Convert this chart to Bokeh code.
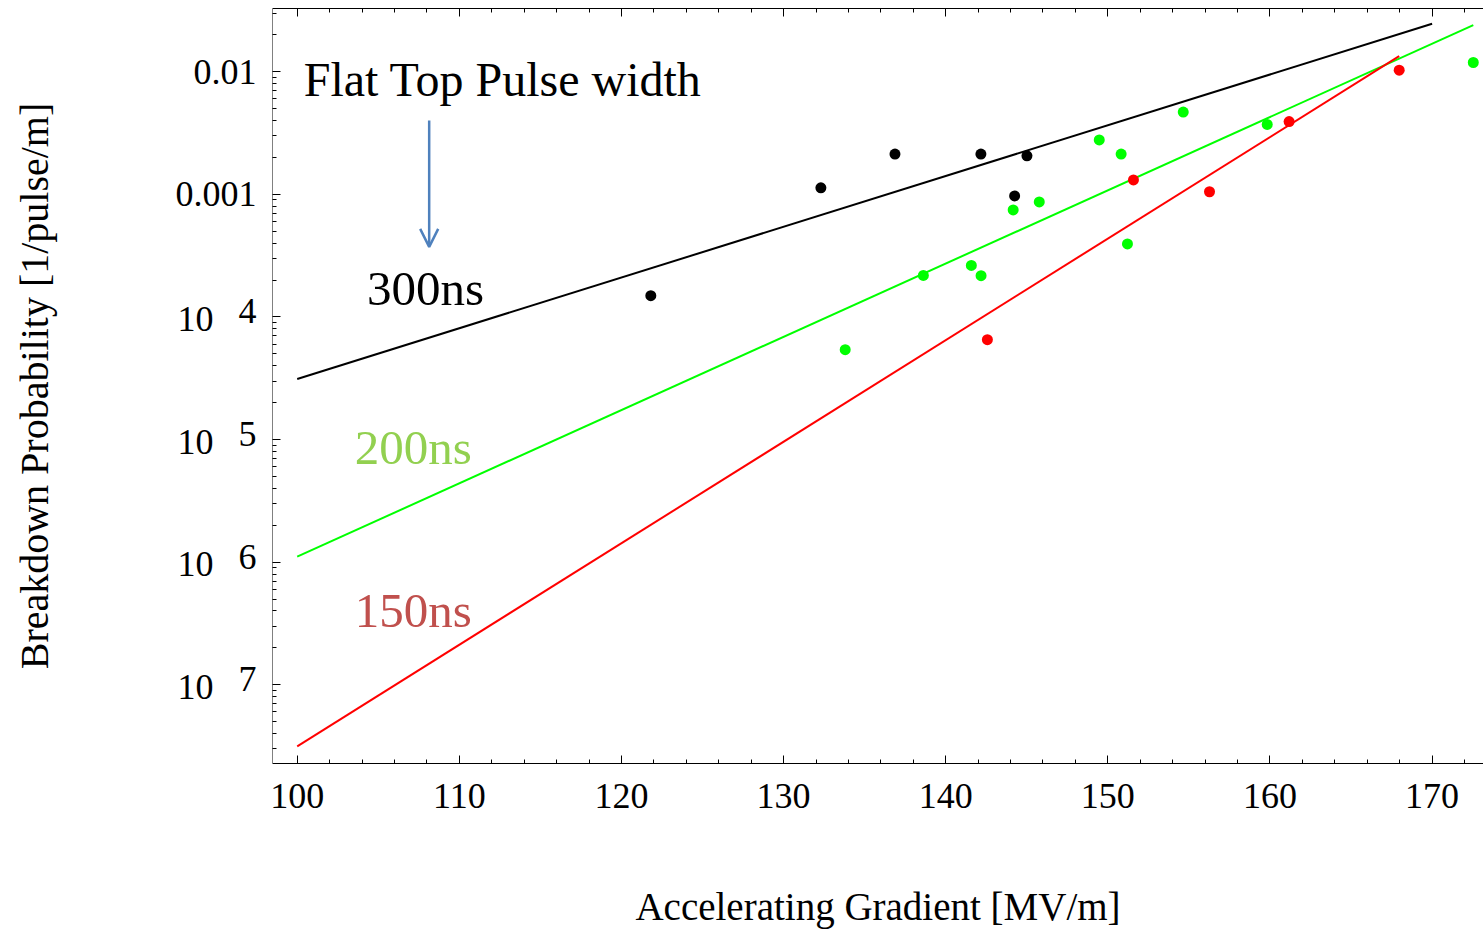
from bokeh.plotting import figure
from bokeh.models import (Range1d, FixedTicker, LinearAxis, LogAxis,
                          Label, Arrow, OpenHead)
from bokeh.embed import file_html
from bokeh.resources import INLINE

# ---------------- data ----------------
x_300 = [121.81, 132.30, 136.87, 142.17, 145.01, 144.25]
y_300 = [1.49e-4, 1.13e-3, 2.13e-3, 2.13e-3, 2.06e-3, 9.70e-4]

x_200 = [133.80, 138.62, 141.58, 142.18, 144.16, 145.77, 149.47, 150.82, 151.21, 154.65, 159.83, 172.54]
y_200 = [5.41e-5, 2.18e-4, 2.63e-4, 2.17e-4, 7.46e-4, 8.67e-4, 2.78e-3, 2.13e-3, 3.94e-4, 4.69e-3, 3.72e-3, 1.19e-2]

x_150 = [142.57, 151.58, 156.27, 161.18, 167.97]
y_150 = [6.52e-5, 1.31e-3, 1.05e-3, 3.92e-3, 1.03e-2]

# exponential fits (straight on the log axis): end points
fit_x_300 = [100.0, 170.0]
fit_y_300 = [3.12e-5, 0.0246]
fit_x_200 = [100.0, 172.54]
fit_y_200 = [1.11e-6, 0.0240]
fit_x_150 = [100.0, 167.97]
fit_y_150 = [3.15e-8, 0.0134]

xtick_values = [100, 110, 120, 130, 140, 150, 160, 170]
xtick_labels = ["100", "110", "120", "130", "140", "150", "160", "170"]

ytick_values = [1e-2, 1e-3, 1e-4, 1e-5, 1e-6, 1e-7]
ytick_labels = ["0.01", "0.001", "10", "10", "10", "10"]
ytick_exps = ["", "", "4", "5", "6", "7"]

x_start, x_end = 98.476, 173.17
y_start, y_end = 2.28e-8, 0.0328

FONT = "Liberation Serif"
DECADE_PX = 122.8

p = figure(width=1483, height=930, output_backend="svg", toolbar_location=None,
           y_axis_type="log",
           x_range=Range1d(x_start, x_end), y_range=Range1d(y_start, y_end),
           min_border_left=272, min_border_right=0, min_border_top=8,
           min_border_bottom=166)
p.outline_line_color = None
p.xgrid.visible = False
p.ygrid.visible = False
p.background_fill_color = "white"
p.border_fill_color = "white"

x_minor = list(range(98, 174, 2))

# bottom x axis
xa = p.xaxis[0]
xa.ticker = FixedTicker(ticks=xtick_values, minor_ticks=x_minor)
xa.major_label_overrides = dict(zip(xtick_values, xtick_labels))
xa.major_tick_in = 8
xa.major_tick_out = 0
xa.minor_tick_in = 4
xa.minor_tick_out = 0
xa.axis_line_color = "black"
xa.major_label_text_font = FONT
xa.major_label_text_font_size = "36px"
xa.major_label_text_color = "black"
xa.major_label_standoff = 20
xa.axis_label = "Accelerating Gradient [MV/m]"
xa.axis_label_text_font = FONT
xa.axis_label_text_font_size = "39px"
xa.axis_label_text_font_style = "normal"
xa.axis_label_text_color = "black"
xa.axis_label_standoff = 74

# top frame axis (ticks only)
ta = LinearAxis(ticker=FixedTicker(ticks=xtick_values, minor_ticks=x_minor))
ta.major_label_overrides = {v: "" for v in xtick_values}
ta.major_tick_in = 8
ta.major_tick_out = 0
ta.minor_tick_in = 4
ta.minor_tick_out = 0
ta.major_label_standoff = 0
ta.axis_line_color = "black"
p.add_layout(ta, "above")

# y axis: frame edge with ticks only
minor = []
for e in range(-8, -1):
    for k in range(2, 10):
        minor.append(k * 10.0 ** e)
ya = p.yaxis[0]
ya.ticker = FixedTicker(ticks=ytick_values, minor_ticks=minor)
ya.major_label_overrides = {v: "" for v in ytick_values}
ya.major_tick_in = 8
ya.major_tick_out = 0
ya.minor_tick_in = 4
ya.minor_tick_out = 0
ya.major_label_standoff = 0
ya.axis_line_color = "#808080"

# labels "0.01", "0.001" and the (raised) exponents
sup = 10 ** (5.5 / DECADE_PX)
yb_ticks = [v * (sup if ex else 1.0) for v, ex in zip(ytick_values, ytick_exps)]
yb_text = [ex if ex else l for l, ex in zip(ytick_labels, ytick_exps)]
yb = LogAxis(ticker=FixedTicker(ticks=yb_ticks))
yb.major_label_overrides = dict(zip(yb_ticks, yb_text))
yb.major_tick_line_color = None
yb.minor_tick_line_color = None
yb.axis_line_color = None
yb.major_tick_in = 0
yb.major_tick_out = 0
yb.minor_tick_in = 0
yb.minor_tick_out = 0
yb.major_label_standoff = 16
yb.major_label_text_font = FONT
yb.major_label_text_font_size = "36px"
yb.major_label_text_color = "black"
p.add_layout(yb, "left")

# the "10" bases of the exponent labels, plus the axis title
low = 10 ** (-2 / DECADE_PX)
yc_ticks = [v * low for v, ex in zip(ytick_values, ytick_exps) if ex]
yc_text = [l for l, ex in zip(ytick_labels, ytick_exps) if ex]
yc = LogAxis(ticker=FixedTicker(ticks=yc_ticks))
yc.major_label_overrides = dict(zip(yc_ticks, yc_text))
yc.major_tick_line_color = None
yc.minor_tick_line_color = None
yc.axis_line_color = None
yc.major_tick_in = 0
yc.major_tick_out = 0
yc.minor_tick_in = 0
yc.minor_tick_out = 0
yc.major_label_standoff = -41
yc.major_label_text_font = FONT
yc.major_label_text_font_size = "36px"
yc.major_label_text_color = "black"
yc.axis_label = "Breakdown Probability [1/pulse/m]"
yc.axis_label_text_font = FONT
yc.axis_label_text_font_size = "40px"
yc.axis_label_text_font_style = "normal"
yc.axis_label_text_color = "black"
yc.axis_label_standoff = 118
p.add_layout(yc, "left")

# fit lines
p.line(fit_x_300, fit_y_300, line_color="black", line_width=2)
p.line(fit_x_200, fit_y_200, line_color="#00ff00", line_width=2)
p.line(fit_x_150, fit_y_150, line_color="#ff0000", line_width=2)

# points
p.scatter(x_300, y_300, size=11, fill_color="black", line_color=None)
p.scatter(x_200, y_200, size=11, fill_color="#00ff00", line_color=None)
p.scatter(x_150, y_150, size=11, fill_color="#ff0000", line_color=None)

# annotations
p.add_layout(Label(x=100.40, y=8.66e-3, text="Flat Top Pulse width", text_font=FONT,
                   text_font_size="48px", text_color="black", text_baseline="alphabetic"))
p.add_layout(Label(x=104.30, y=1.72e-4, text="300ns", text_font=FONT,
                   text_font_size="49px", text_color="black", text_baseline="alphabetic"))
p.add_layout(Label(x=103.55, y=8.67e-6, text="200ns", text_font=FONT,
                   text_font_size="49px", text_color="#92d050", text_baseline="alphabetic"))
p.add_layout(Label(x=103.55, y=4.05e-7, text="150ns", text_font=FONT,
                   text_font_size="49px", text_color="#c0504d", text_baseline="alphabetic"))
p.add_layout(Arrow(x_start=108.14, y_start=4.01e-3, x_end=108.14, y_end=3.73e-4,
                   line_color="#4f81bd", line_width=2.5,
                   end=OpenHead(size=18, line_color="#4f81bd", line_width=2.5)))

open("out.html", "w").write(file_html(p, INLINE))
